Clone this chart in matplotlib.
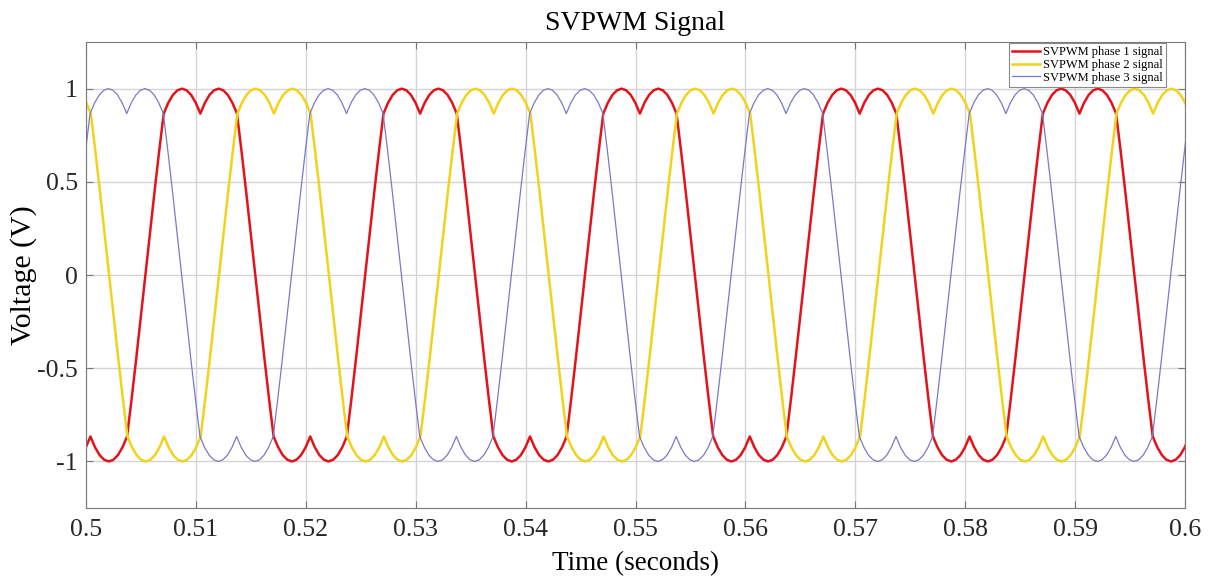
import matplotlib
matplotlib.use("Agg")
import matplotlib.pyplot as plt
import numpy as np

plt.rcParams['font.family'] = ['Liberation Serif', 'DejaVu Serif']

# one cycle of the SVPWM reference, every 7.5 deg,
# starting at the rising zero crossing
cycle = [0.0, 0.226, 0.448, 0.663, 0.866, 0.924, 0.966, 0.991,
         1.0, 0.991, 0.966, 0.924, 0.866, 0.924, 0.966, 0.991,
         1.0, 0.991, 0.966, 0.924, 0.866, 0.663, 0.448, 0.226,
         0.0, -0.226, -0.448, -0.663, -0.866, -0.924, -0.966, -0.991,
         -1.0, -0.991, -0.966, -0.924, -0.866, -0.924, -0.966, -0.991,
         -1.0, -0.991, -0.966, -0.924, -0.866, -0.663, -0.448, -0.226]
period = 0.02
# time of the rising zero crossing of each phase (seconds)
zero_cross = [0.5054, 0.5121, 0.5187]
labels = ['SVPWM phase 1 signal', 'SVPWM phase 2 signal', 'SVPWM phase 3 signal']
colors = ['#e3131b', '#f2d31b', '#7a7ac4']
widths = [1.8, 1.8, 0.9]

xticks = [0.5, 0.51, 0.52, 0.53, 0.54, 0.55, 0.56, 0.57, 0.58, 0.59, 0.6]
xticklabels = ['0.5', '0.51', '0.52', '0.53', '0.54', '0.55', '0.56', '0.57', '0.58', '0.59', '0.6']
yticks = [-1, -0.5, 0, 0.5, 1]
yticklabels = ['-1', '-0.5', '0', '0.5', '1']

fig = plt.figure(figsize=(12.12, 5.78), dpi=100)
ax = fig.add_axes([0.071, 0.121, 0.9067, 0.8063])

n = len(cycle)
dt = period / n
for t0, lab, c, w in zip(zero_cross, labels, colors, widths):
    k = np.arange(-2 * n, 5 * n + 1)
    t = t0 + k * dt
    v = np.array(cycle)[k % n]
    ax.plot(t, v, color=c, lw=w, label=lab)

ax.set_xlim(0.5, 0.6)
ax.set_ylim(-1.25, 1.25)
ax.set_xticks(xticks)
ax.set_xticklabels(xticklabels)
ax.set_yticks(yticks)
ax.set_yticklabels(yticklabels)
ax.grid(True, color='#d4d4d4', lw=1.0)
ax.set_axisbelow(True)
ax.tick_params(direction='in', length=5, top=True, right=True,
               labelsize=18.5, colors='#777777', labelcolor='#262626')
ax.tick_params(axis='x', pad=8)
ax.tick_params(axis='y', pad=6)
for s in ax.spines.values():
    s.set_color('#7a7a7a')

ax.set_title('SVPWM Signal', fontsize=20, pad=9)
ax.set_xlabel('Time (seconds)', fontsize=19.5, labelpad=7)
ax.set_ylabel('Voltage (V)', fontsize=21.5, labelpad=0)

leg = ax.legend(loc='upper right', bbox_to_anchor=(0.984, 1.0), fontsize=9,
                handlelength=2.2, labelspacing=0.05, borderpad=0.25,
                handletextpad=0.3, fancybox=False, framealpha=1,
                edgecolor='#8a8a8a', borderaxespad=0.1)
leg.get_frame().set_linewidth(0.8)

fig.savefig('out.png', dpi=100)
